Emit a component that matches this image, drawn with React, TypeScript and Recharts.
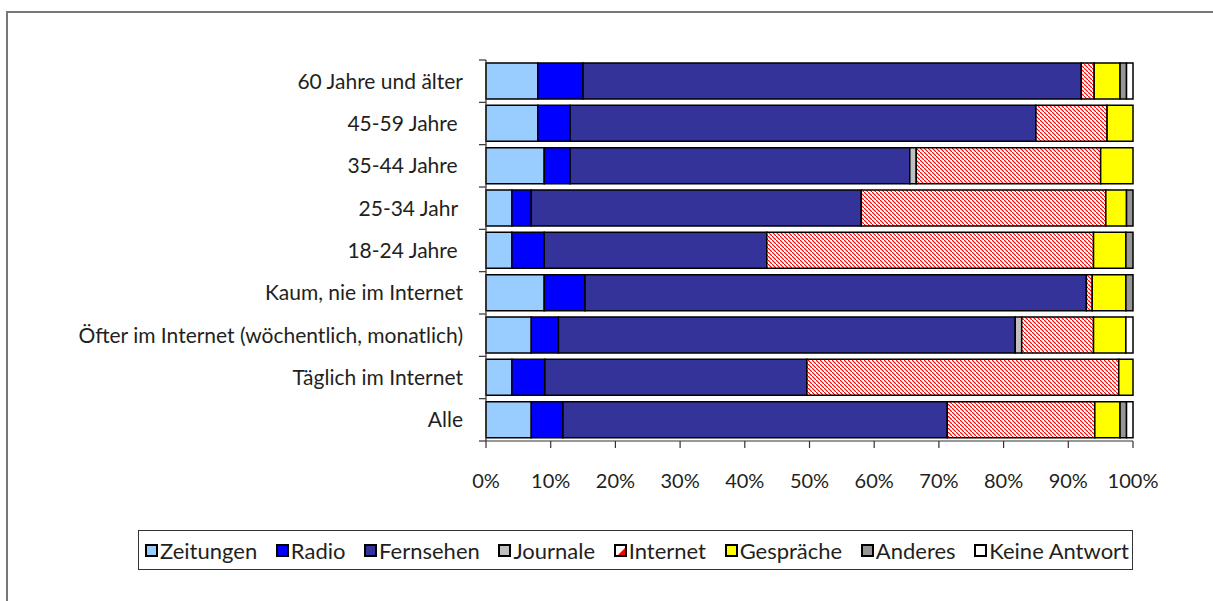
import React from 'react';
import { BarChart, Bar, XAxis, YAxis, Legend } from 'recharts';

const categories = [
  '60 Jahre und älter',
  '45-59 Jahre ',
  '35-44 Jahre ',
  '25-34 Jahr ',
  '18-24 Jahre ',
  'Kaum, nie im Internet',
  'Öfter im Internet (wöchentlich, monatlich)',
  'Täglich im Internet',
  'Alle',
];

const zeitungen = [8, 8, 9, 4, 4, 9, 7, 4, 7];
const radio = [7, 5, 4, 3, 5, 6.3, 4.2, 5.1, 4.9];
const fernsehen = [77, 72, 52.5, 51, 34.4, 77.5, 70.6, 40.5, 59.4];
const journale = [0, 0, 1, 0, 0, 0, 1, 0, 0];
const internet = [2, 11, 28.5, 37.8, 50.5, 0.9, 11.1, 48.2, 22.8];
const gespraeche = [4, 4, 5, 3.2, 5, 5.2, 5, 2.2, 3.9];
const anderes = [1, 0, 0, 1, 1.1, 1.1, 0, 0, 1];
const keineAntwort = [1, 0, 0, 0, 0, 0, 1.1, 0, 1];

const xTicks = [0, 10, 20, 30, 40, 50, 60, 70, 80, 90, 100];

const series = [
  { key: 'Zeitungen', values: zeitungen, fill: '#99ccff' },
  { key: 'Radio', values: radio, fill: '#0000ff' },
  { key: 'Fernsehen', values: fernsehen, fill: '#333399' },
  { key: 'Journale', values: journale, fill: '#c0c0c0' },
  { key: 'Internet', values: internet, fill: 'url(#hatch)' },
  { key: 'Gespräche', values: gespraeche, fill: '#ffff00' },
  { key: 'Anderes', values: anderes, fill: '#969696' },
  { key: 'Keine Antwort', values: keineAntwort, fill: '#ffffff' },
];

const data = categories.map((name, i) => {
  const row: Record<string, string | number> = { name };
  series.forEach((s) => {
    row[s.key] = s.values[i];
  });
  return row;
});

const W = 1213;
const H = 601;
const M = { top: 60, right: 80, bottom: 120, left: 0 };
const Y_W = 486;
const X_H = 40;
const BAND = (H - M.top - M.bottom - X_H) / categories.length;
const FONT = 'Lato, "Open Sans", sans-serif';
const TEXT = '#231f20';

const CategoryTick = (props: any) => {
  const { x, y, payload, index } = props;
  const axisX = x + 23;
  const last = index === categories.length - 1;
  return (
    <g>
      <line x1={axisX - 7} x2={axisX} y1={y - BAND / 2} y2={y - BAND / 2} stroke="#333" strokeWidth={1.2} />
      {last && (
        <line x1={axisX - 7} x2={axisX} y1={y + BAND / 2} y2={y + BAND / 2} stroke="#333" strokeWidth={1.2} />
      )}
      <text
        x={x}
        y={y}
        dy="0.35em"
        textAnchor="end"
        fill={TEXT}
        fontSize={21}
        fontFamily={FONT}
        style={{ whiteSpace: 'pre' }}
      >
        {payload.value}
      </text>
    </g>
  );
};

const LegendIcon = ({ fill }: { fill: string }) => {
  if (fill === 'url(#hatch)') {
    return (
      <svg width={13} height={13} style={{ marginRight: 2 }}>
        <rect x={1} y={1} width={11} height={11} fill="#fff" stroke="#000" strokeWidth={2} />
        <path d="M11,4 L11,11 L4,11 Z" fill="#ff0000" />
      </svg>
    );
  }
  return (
    <svg width={13} height={13} style={{ marginRight: 2 }}>
      <rect x={1} y={1} width={11} height={11} fill={fill} stroke="#000" strokeWidth={2} />
    </svg>
  );
};

const LegendBox = () => (
  <div
    style={{
      boxSizing: 'border-box',
      width: 995,
      height: 40,
      border: '1px solid #333',
      background: '#fff',
      display: 'flex',
      alignItems: 'center',
      justifyContent: 'space-between',
      padding: '0 3px 0 6px',
      fontFamily: FONT,
      fontSize: 22,
      color: TEXT,
    }}
  >
    {series.map((s) => (
      <span key={s.key} style={{ display: 'flex', alignItems: 'center', whiteSpace: 'nowrap' }}>
        <LegendIcon fill={s.fill} />
        {s.key}
      </span>
    ))}
  </div>
);

export default function App() {
  return (
    <div style={{ position: 'absolute', left: 0, top: 0, width: W, height: H, overflow: 'hidden', background: '#fff' }}>
      <div
        style={{
          position: 'absolute',
          left: 6,
          top: 11,
          width: 1300,
          height: 700,
          border: '2px solid #777',
        }}
      />
      <div style={{ position: 'absolute', left: 0, top: 0 }}>
        <BarChart width={W} height={H} data={data} layout="vertical" margin={M} barCategoryGap={3}>
          <defs>
            <pattern id="hatch" width={4} height={4} patternUnits="userSpaceOnUse">
              <rect width={4} height={4} fill="#ffffff" />
              <path d="M-1,-1 L1,1 M0,0 L4,4 M3,3 L5,5" stroke="#ff0000" strokeWidth={1.1} />
            </pattern>
          </defs>
          <XAxis
            type="number"
            domain={[0, 100]}
            ticks={xTicks}
            interval={0}
            height={X_H}
            tickFormatter={(v) => `${v}%`}
            tick={{ fill: TEXT, fontSize: 20, fontFamily: FONT }}
            tickSize={7}
            tickMargin={26}
            stroke="#333"
            axisLine={{ stroke: '#333', strokeWidth: 1.2 }}
            tickLine={{ stroke: '#333', strokeWidth: 1.2 }}
          />
          <YAxis
            type="category"
            dataKey="name"
            width={Y_W}
            interval={0}
            tickSize={0}
            tickMargin={23}
            tickLine={false}
            axisLine={{ stroke: '#333', strokeWidth: 1.2 }}
            tick={<CategoryTick />}
          />
          {series.map((s) => (
            <Bar
              key={s.key}
              dataKey={s.key}
              stackId="a"
              fill={s.fill}
              stroke="#000"
              strokeWidth={1.5}
              isAnimationActive={false}
            />
          ))}
          <Legend
            layout="horizontal"
            verticalAlign="middle"
            align="center"
            wrapperStyle={{ position: 'absolute', top: 530, left: 138, width: 995, height: 40 }}
            content={() => <LegendBox />}
          />
        </BarChart>
      </div>
    </div>
  );
}
